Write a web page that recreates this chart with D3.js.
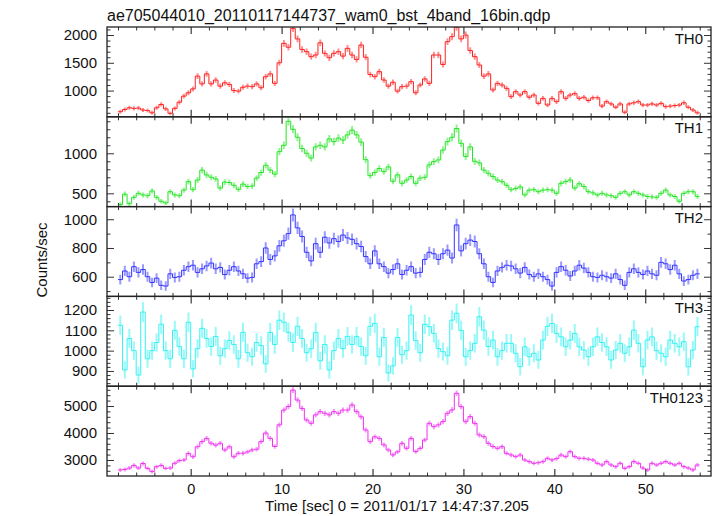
<!DOCTYPE html>
<html>
<head>
<meta charset="utf-8">
<script src="https://cdn.jsdelivr.net/npm/d3@7/dist/d3.min.js"></script>
<style>
  html, body { margin: 0; padding: 0; background: #fff; }
  svg text { font-family: "Liberation Sans", Arial, Helvetica, sans-serif; fill: #111; }
</style>
</head>
<body>
<svg id="chart" width="717" height="516"></svg>
<script>
// ---- data (rates in counts/sec, 0.5 s bins starting at t = -7.75 s) ----
const tStart = -7.75;
const binWidth = 0.5;
const panelNames = ["TH0", "TH1", "TH2", "TH3", "TH0123"];

const th0 = [620,660,690,680,685,650,640,600,690,750,670,590,680,790,900,960,
1030,1260,1120,1300,1120,1190,1080,1140,1110,1000,990,1060,1080,1070,1120,1050,
1250,1300,1130,1500,1850,1780,2120,1930,1740,1700,1610,1640,1860,1670,1590,1670,
1700,1620,1760,1640,1560,1820,1600,1290,1250,1340,1190,1080,1150,990,1070,1080,
1160,960,1100,1210,1130,1640,1640,1470,1880,1970,2140,1930,2000,1720,1610,1460,
1260,1300,1010,1130,1100,1040,890,980,920,980,880,920,770,860,740,860,
800,980,860,920,945,860,880,820,870,870,720,800,760,700,760,610,
760,780,800,740,740,760,740,770,710,720,730,740,780,700,650,600];

const th1 = [360,490,370,450,500,480,470,530,450,400,380,520,480,470,541,646,
545,666,790,730,700,680,565,640,635,600,550,615,585,590,690,760,
850,790,740,1020,1100,1400,1300,1200,1060,1000,940,1080,1100,1080,1180,1145,
1190,1165,1230,1290,1230,1140,920,720,760,810,770,830,650,730,625,665,
710,625,690,700,855,896,917,1040,1146,1200,1310,1125,960,1080,900,880,
790,750,710,665,646,600,545,560,580,480,540,545,520,540,545,540,
500,625,646,667,565,620,585,520,505,480,500,480,470,450,500,520,
480,520,500,480,460,455,450,500,540,480,460,400,500,520,520,460];

const th2 = [580,640,600,670,630,650,600,560,590,540,535,620,595,600,645,670,
680,630,655,675,695,655,665,615,645,670,640,620,590,595,690,705,
800,720,745,815,850,900,1030,940,880,770,710,830,770,875,835,865,
845,890,870,860,830,810,740,690,780,690,670,625,650,690,615,645,
670,625,630,720,770,760,720,760,785,730,960,780,830,855,845,760,
690,600,560,640,665,680,675,655,625,665,615,600,620,600,580,535,
630,670,645,605,640,680,660,630,600,595,610,600,590,620,580,540,
630,655,630,615,640,620,610,700,690,650,680,620,570,580,610,620];

const th3 = [1125,905,1060,1000,880,1190,960,1000,1040,1130,1000,960,1100,1020,960,1140,
910,1010,1110,1060,1020,1070,975,1010,1050,1030,960,1090,990,970,1040,1025,
935,1090,1030,1150,1140,1090,1040,1120,1060,990,1010,1090,950,1030,905,1000,
1060,1010,1070,1030,1070,1020,975,1120,1134,970,1065,890,925,1065,980,1000,
1175,1050,990,1130,1118,1085,1010,995,975,1150,1184,1100,970,1000,1036,1167,
1101,1020,1052,970,1000,1036,1036,987,921,1019,970,987,954,1052,1120,1134,
1085,1068,1019,1052,1085,1019,1003,970,1019,1068,1040,1019,954,1003,1036,987,
1019,1101,1036,921,1052,1068,1000,987,970,1052,1036,1019,1044,921,1003,1118];

const th0123 = [2630,2650,2700,2800,2700,2870,2690,2570,2750,2800,2690,2700,2880,2975,3000,3240,
3120,3490,3680,3800,3620,3550,3620,3370,3490,3120,3250,3250,3300,3370,3400,3680,
4000,3800,3500,4300,4850,4980,5590,5220,4910,4480,4360,4670,4790,4730,4670,4790,
4730,4850,4850,5040,4790,4600,4110,3680,3860,3800,3560,3370,3185,3300,3617,3432,
3802,3309,3432,3741,4358,4235,4300,4420,4729,4852,5470,4976,4420,4605,4358,3926,
3864,3617,3500,3432,3494,3247,3185,3123,3185,3000,2938,2877,2900,2938,3062,3000,
3050,3185,3123,3309,3123,3062,3062,3030,3000,2877,2815,2938,2815,2753,2877,2691,
2753,2938,2877,2700,2630,2877,2815,2877,2938,2877,2815,2877,2753,2700,2630,2815];

// tick labels
const xTickLabels = [0, 10, 20, 30, 40, 50];
const yTicks0 = [1000, 1500, 2000];
const yTicks1 = [500, 1000];
const yTicks2 = [600, 800, 1000];
const yTicks3 = [900, 1000, 1100, 1200];
const yTicks4 = [3000, 4000, 5000];
const minorSteps = [100, 100, 100, 20, 200];
const yRanges = [[528, 2144], [334, 1456], [463, 1088], [825, 1267], [2407, 5733]];
const xRange = [-9.21, 57.24];

(function draw() {
  const colors = ["#ff2020", "#22e622", "#3434ff", "#33f2f2", "#f030f0"];
  const series = [th0, th1, th2, th3, th0123];
  const majorTicks = [yTicks0, yTicks1, yTicks2, yTicks3, yTicks4];

  const pL = 107, pR = 711, pT = 27, pB = 476;
  const nP = 5, ph = (pB - pT) / nP;

  const svg = d3.select("#chart");
  const x = d3.scaleLinear().domain(xRange).range([pL, pR]);
  const xMinor = d3.range(-8, 57, 2);

  svg.append("text").attr("x", 107).attr("y", 20.5)
    .attr("font-size", 16).text("ae705044010_20110117144737_wam0_bst_4band_16bin.qdp");

  series.forEach((vals, p) => {
    const y0 = pT + p * ph, y1 = y0 + ph;
    const y = d3.scaleLinear().domain(yRanges[p]).range([y1, y0]);
    const g = svg.append("g");
    const col = colors[p];
    const clipId = "clip" + p;
    svg.append("clipPath").attr("id", clipId).append("rect")
      .attr("x", pL).attr("y", y0).attr("width", pR - pL).attr("height", ph);

    const pts = vals.map((v, i) => ({ t: tStart + i * binWidth, v: v, e: Math.sqrt(v / binWidth) }));
    const dg = g.append("g").attr("clip-path", `url(#${clipId})`);
    dg.selectAll("line.err").data(pts).enter().append("line")
      .attr("x1", d => x(d.t)).attr("x2", d => x(d.t))
      .attr("y1", d => y(d.v - d.e)).attr("y2", d => y(d.v + d.e))
      .attr("stroke", col).attr("stroke-width", 2).attr("stroke-opacity", 0.5);
    const stepPts = [{ t: pts[0].t - binWidth / 2, v: pts[0].v }, ...pts,
                     { t: pts[pts.length - 1].t + binWidth / 2, v: pts[pts.length - 1].v }];
    const line = d3.line().x(d => x(d.t)).y(d => y(d.v)).curve(d3.curveStep);
    dg.append("path").datum(stepPts).attr("d", line)
      .attr("fill", "none").attr("stroke", col).attr("stroke-width", 1);

    const minorY = d3.range(Math.ceil(yRanges[p][0] / minorSteps[p]) * minorSteps[p], yRanges[p][1], minorSteps[p])
      .filter(v => !majorTicks[p].includes(v));
    const axStyle = sel => {
      sel.select(".domain").remove();
      sel.selectAll(".tick line").attr("stroke", "#333").attr("stroke-width", 1);
    };
    g.append("g").attr("transform", `translate(${pL},0)`)
      .call(d3.axisLeft(y).tickValues(majorTicks[p]).tickSize(-7).tickPadding(10).tickFormat(d3.format("d")))
      .call(axStyle)
      .call(s => s.selectAll("text").attr("font-size", 15).attr("fill", "#111")
        .style("font-family", '"Liberation Sans", Arial, sans-serif'));
    g.append("g").attr("transform", `translate(${pL},0)`)
      .call(d3.axisLeft(y).tickValues(minorY).tickSize(-3.5).tickFormat(""))
      .call(axStyle);
    g.append("g").attr("transform", `translate(${pR},0)`)
      .call(d3.axisRight(y).tickValues(majorTicks[p]).tickSize(-7).tickFormat(""))
      .call(axStyle);
    g.append("g").attr("transform", `translate(${pR},0)`)
      .call(d3.axisRight(y).tickValues(minorY).tickSize(-3.5).tickFormat(""))
      .call(axStyle);
    [[y0, d3.axisTop], [y1, d3.axisBottom]].forEach(([yy, ax]) => {
      g.append("g").attr("transform", `translate(0,${yy})`)
        .call(ax(x).tickValues(xTickLabels).tickSize(-7).tickFormat(""))
        .call(axStyle)
        .call(s => s.selectAll(".tick line").attr("stroke", "#555").attr("stroke-width", 1.4));
      g.append("g").attr("transform", `translate(0,${yy})`)
        .call(ax(x).tickValues(xMinor.filter(v => v % 10 !== 0)).tickSize(-3.5).tickFormat(""))
        .call(axStyle);
    });
    g.append("rect").attr("x", pL).attr("y", y0).attr("width", pR - pL).attr("height", ph)
      .attr("fill", "none").attr("stroke", "#222").attr("stroke-width", 1.3);
    g.append("text").attr("x", 703).attr("y", y0 + 16.5).attr("text-anchor", "end")
      .attr("font-size", 15).text(panelNames[p]);

    if (p === nP - 1) {
      g.append("g").attr("transform", `translate(0,${y1})`)
        .call(d3.axisBottom(x).tickValues(xTickLabels).tickSize(0).tickPadding(0).tickFormat(d3.format("d")))
        .call(s => s.select(".domain").remove())
        .call(s => s.selectAll("text").attr("font-size", 14.5).attr("fill", "#111")
          .attr("dy", null).attr("y", 17.5)
          .style("font-family", '"Liberation Sans", Arial, sans-serif'));
    }
  });

  svg.append("text").attr("x", 397).attr("y", 511).attr("text-anchor", "middle")
    .attr("font-size", 15).text("Time [sec] 0 = 2011/01/17 14:47:37.205");
  svg.append("text").attr("transform", "translate(46.5,260) rotate(-90)").attr("text-anchor", "middle")
    .attr("font-size", 15).text("Counts/sec");
})();
</script>
</body>
</html>
